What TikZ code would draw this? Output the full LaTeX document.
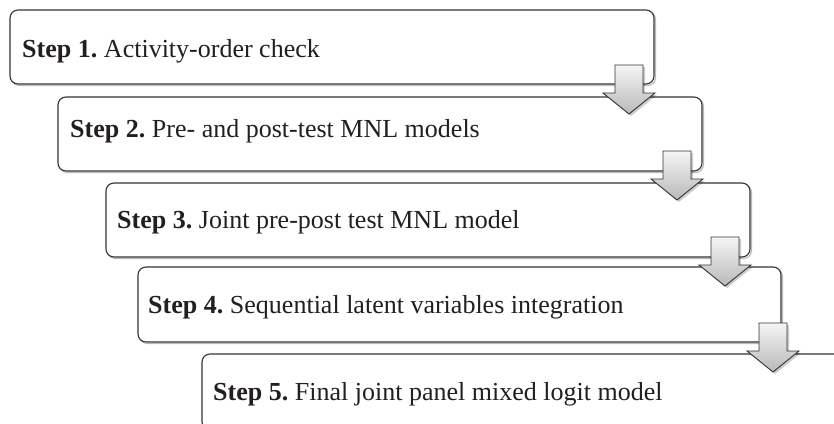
\documentclass[tikz,border=0pt]{standalone}
\usepackage{fontspec}
\setmainfont{Liberation Serif}
\usetikzlibrary{calc}
\definecolor{lineclr}{HTML}{333333}
\definecolor{txtclr}{HTML}{231F20}
\tikzset{
  stepbox/.style={draw=lineclr, line width=1.1pt, rounded corners=8pt, rectangle,
    inner sep=0pt, outer sep=0pt, fill=white},
  boxshadow/.style={draw=gray!55, line width=1.1pt, rounded corners=8pt, rectangle,
    inner sep=0pt, outer sep=0pt},
  steptext/.style={anchor=base west, inner sep=0pt, text=txtclr,
    font=\fontsize{26}{30}\selectfont},
  arrowbody/.style={draw=lineclr, line width=0.9pt, line join=miter,
    top color=gray!8, bottom color=gray!55},
  arrowshadow/.style={fill=black, opacity=0.2},
  pics/bigarrow/.style={code={
    \path[arrowshadow] (-12,2) -- (16,2) -- (16,30) -- (28,30) -- (2,51) -- (-24,30) -- (-12,30) -- cycle;
    \path[arrowbody] (-14,0) -- (14,0) -- (14,28) -- (26,28) -- (0,49) -- (-26,28) -- (-14,28) -- cycle;
  }}
}
\begin{document}
\begin{tikzpicture}[x=1pt, y=-1pt]
\useasboundingbox (0,0) rectangle (834,423);
\clip (0,0) rectangle (834,423);
\fill[white] (0,0) rectangle (834,423);
% shadows of boxes
\node[boxshadow, minimum width=644pt, minimum height=74pt] at (333.5,48.5) {};
\node[boxshadow, minimum width=644pt, minimum height=74pt] at (381.5,135.5) {};
\node[boxshadow, minimum width=644pt, minimum height=74pt] at (429.5,221.5) {};
\node[boxshadow, minimum width=643pt, minimum height=75pt] at (461,306) {};
% boxes
\node[stepbox, minimum width=644pt, minimum height=74pt] (b1) at (332,47) {};
\node[stepbox, minimum width=644pt, minimum height=74pt] (b2) at (380,134) {};
\node[stepbox, minimum width=644pt, minimum height=74pt] (b3) at (428,220) {};
\node[stepbox, minimum width=643pt, minimum height=75pt] (b4) at (459.5,304.5) {};
\node[stepbox, minimum width=643pt, minimum height=76pt] (b5) at (523.5,392) {};
% texts
\node[steptext] (t1) at (22,57) {\textbf{Step 1.}\hspace{-2pt} Activity-order check};
\node[steptext] (t2) at (70,137) {\textbf{Step 2.}\hspace{-2pt} Pre- and post-test MNL models};
\node[steptext] (t3) at (117,228) {\textbf{Step 3.}\hspace{-2pt} Joint pre-post test MNL model};
\node[steptext] (t4) at (148,313) {\textbf{Step 4.}\hspace{-2pt} Sequential latent variables integration};
\node[steptext] (t5) at (213,400) {\textbf{Step 5.}\hspace{-2pt} Final joint panel mixed logit model};
% arrows
\coordinate (a1) at (629,65);
\coordinate (a2) at (677,151);
\coordinate (a3) at (725,237);
\coordinate (a4) at (773,323);
\pic at (a1) {bigarrow};
\pic at (a2) {bigarrow};
\pic at (a3) {bigarrow};
\pic at (a4) {bigarrow};
\end{tikzpicture}
\end{document}
